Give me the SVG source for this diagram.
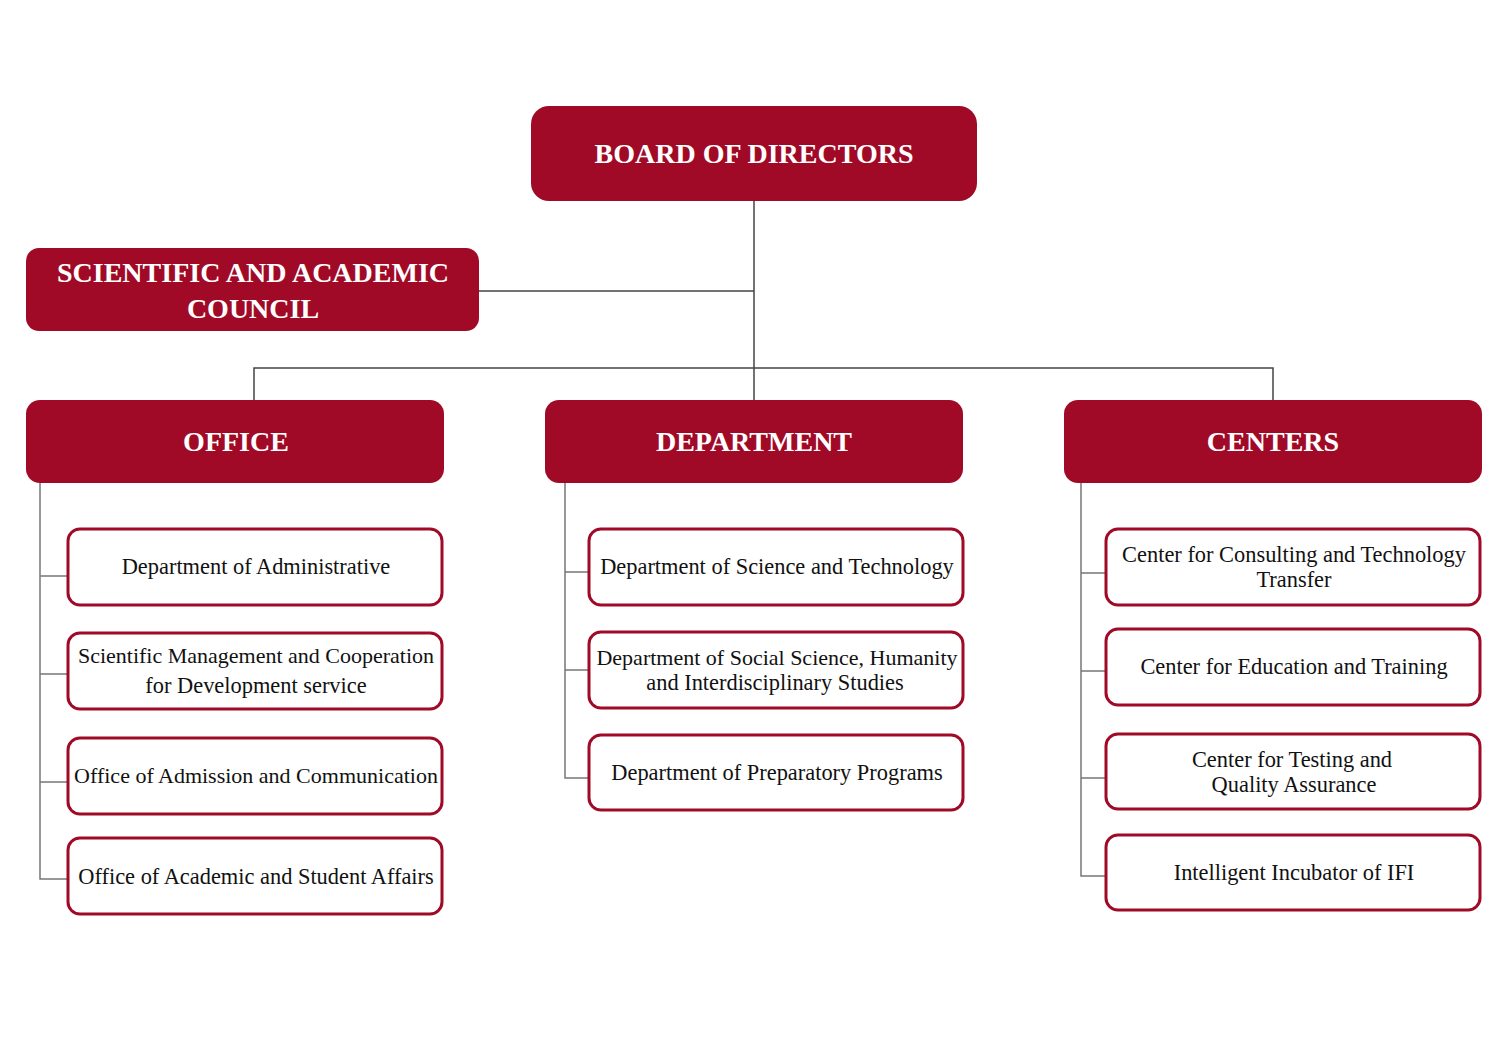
<svg xmlns="http://www.w3.org/2000/svg" width="1500" height="1061" viewBox="0 0 1500 1061">
<style>
.hd{fill:#A00A27;}
.ch{fill:#fff;stroke:#A00A27;stroke-width:3;}
.ht{font-family:"Liberation Serif","DejaVu Serif",serif;font-weight:bold;fill:#fff;text-anchor:middle;font-size:28px;}
.ct{font-family:"Liberation Serif","DejaVu Serif",serif;fill:#111;text-anchor:middle;font-size:22.4px;}
.sm{font-size:22px;}
.ln{fill:none;stroke:#444;stroke-width:1.5;}
.ln2{fill:none;stroke:#777;stroke-width:1.5;}
</style>
<rect width="1500" height="1061" fill="#fff"/>
<g id="connectors">
<path class="ln" d="M754,201 V400 M479,291 H754 M254,400 V368 H1273 V400"/>
<path class="ln2" d="M40,483 V879 H68 M40,576 H68 M40,674 H68 M40,782 H68"/>
<path class="ln2" d="M565,483 V778 H589 M565,572 H589 M565,670 H589"/>
<path class="ln2" d="M1081,483 V876 H1106 M1081,573 H1106 M1081,671 H1106 M1081,778 H1106"/>
</g>
<g id="board"><rect class="hd" x="531" y="106" width="446" height="95" rx="18"/><text class="ht" x="754" y="163">BOARD OF DIRECTORS</text></g>
<g id="council"><rect class="hd" x="26" y="248" width="453" height="83" rx="13"/><text class="ht" x="253" y="282">SCIENTIFIC AND ACADEMIC</text><text class="ht" x="253" y="318">COUNCIL</text></g>
<g id="office"><rect class="hd" x="26" y="400" width="418" height="83" rx="14"/><text class="ht" x="236" y="451">OFFICE</text></g>
<g id="department"><rect class="hd" x="545" y="400" width="418" height="83" rx="14"/><text class="ht" x="754" y="451">DEPARTMENT</text></g>
<g id="centers"><rect class="hd" x="1064" y="400" width="418" height="83" rx="14"/><text class="ht" x="1273" y="451">CENTERS</text></g>
<g id="o1"><rect class="ch" x="68" y="529" width="374" height="76" rx="12"/><text class="ct" x="256" y="574">Department of Administrative</text></g>
<g id="o2"><rect class="ch" x="68" y="633" width="374" height="76" rx="12"/><text class="ct sm" x="256" y="663">Scientific Management and Cooperation</text><text class="ct" x="256" y="693">for Development service</text></g>
<g id="o3"><rect class="ch" x="68" y="738" width="374" height="76" rx="12"/><text class="ct sm" x="256" y="783">Office of Admission and Communication</text></g>
<g id="o4"><rect class="ch" x="68" y="838" width="374" height="76" rx="12"/><text class="ct" x="256" y="884">Office of Academic and Student Affairs</text></g>
<g id="d1"><rect class="ch" x="589" y="529" width="374" height="76" rx="12"/><text class="ct" x="777" y="574">Department of Science and Technology</text></g>
<g id="d2"><rect class="ch" x="589" y="632" width="374" height="76" rx="12"/><text class="ct sm" x="777" y="665">Department of Social Science, Humanity</text><text class="ct" x="775" y="690">and Interdisciplinary Studies</text></g>
<g id="d3"><rect class="ch" x="589" y="735" width="374" height="75" rx="12"/><text class="ct" x="777" y="780">Department of Preparatory Programs</text></g>
<g id="c1"><rect class="ch" x="1106" y="529" width="374" height="76" rx="12"/><text class="ct" x="1294" y="562">Center for Consulting and Technology</text><text class="ct" x="1294" y="587">Transfer</text></g>
<g id="c2"><rect class="ch" x="1106" y="629" width="374" height="76" rx="12"/><text class="ct" x="1294" y="674">Center for Education and Training</text></g>
<g id="c3"><rect class="ch" x="1106" y="734" width="374" height="75" rx="12"/><text class="ct" x="1292" y="767">Center for Testing and</text><text class="ct" x="1294" y="792">Quality Assurance</text></g>
<g id="c4"><rect class="ch" x="1106" y="835" width="374" height="75" rx="12"/><text class="ct" x="1294" y="880">Intelligent Incubator of IFI</text></g>
</svg>
